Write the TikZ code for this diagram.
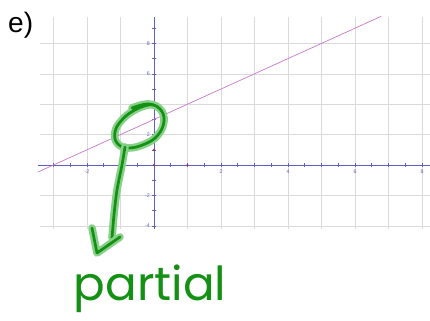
\documentclass[tikz,border=0pt]{standalone}
\usepackage{fontspec}
\setmainfont{Liberation Sans}
\newfontfamily\handfont{Poppins}
\usetikzlibrary{calc}
\definecolor{GridGray}{RGB}{218,218,218}
\definecolor{AxisBlue}{RGB}{95,95,195}
\definecolor{LineViolet}{RGB}{200,120,205}
\definecolor{DotRed}{RGB}{190,40,40}
\definecolor{InkGreen}{RGB}{20,145,20}
\definecolor{InkGlow}{RGB}{135,208,135}

\begin{document}
\begin{tikzpicture}[
        gridln/.style={draw=GridGray, line width=0.5pt},
        axis/.style={draw=AxisBlue, line width=0.7pt},
        ticklbl/.style={text=AxisBlue, font=\fontsize{4.5}{5}\selectfont, inner sep=0.5pt},
        dot/.style={circle, fill=DotRed, inner sep=0pt, minimum size=2pt},
        ink/.style={draw=InkGreen, line width=2.3pt, line cap=round, line join=round,
            preaction={draw=InkGlow, line width=6.5pt, line cap=round, line join=round}}
    ]
        \useasboundingbox (0,0) rectangle (12.9,9.6);
        \node[font=\fontsize{24}{28}\selectfont, inner sep=0pt] (tag) at (0.62,8.85) {e)};
        % graph, 1 unit = 33.5px across and 15.2px up
        \begin{scope}[shift={(4.62cm,4.65cm)}, x=1.005cm, y=0.456cm]
            \foreach \x in {-3,...,8} \draw[gridln] (\x,-4.2) -- (\x,9.74);
            \foreach \y in {-4,-2,2,4,6,8} \draw[gridln] (-3.4,\y) -- (8.24,\y);
            \draw[axis] (-3.46,0) -- (8.24,0);
            \draw[axis] (0,-4.2) -- (0,9.74);
            \foreach \x in {-6,...,16} \draw[axis, line width=0.5pt] (\x/2,-0.13) -- (\x/2,0.13);
            \foreach \y in {-4,...,9} \draw[axis, line width=0.5pt] (-0.06,\y) -- (0.06,\y);
            \foreach \x [count=\i] in {-2,2,4,6,8} \node[ticklbl] (xl\i) at (\x,-0.46) {\x};
            \foreach \y [count=\i] in {-4,-2,2,4,6,8} \node[ticklbl, anchor=east] (yl\i) at (-0.1,\y) {\y};
            \node[dot] (o) at (0,0) {};
            \node[dot] (py) at (0,1) {};
            \node[dot] (px) at (1,0) {};
            \draw[LineViolet, line width=0.6pt] (-3.46,-0.46) -- (6.78,9.78);
        \end{scope}
        % green ink, in pixels from the top left
        \begin{scope}[shift={(0cm,9.6cm)}, x=0.03cm, y=-0.03cm]
            \coordinate (loopbtm) at (125,147);
            \coordinate (stemend) at (112,238);
            \coordinate (tip) at (97,253);
            \draw[ink] plot[smooth, tension=0.7] coordinates {(132,108) (148,104) (160,109) (164,121) (158,135) (145,144) (128,148) (117,143) (115,132) (121,121) (133,111) (148,105) (156,106)};
            \draw[ink] plot[smooth] coordinates {(loopbtm) (122,165) (117,190) (114,215) (stemend)};
            \draw[ink] (92,228) -- (tip) -- (120,237);
            \node[text=InkGreen, font=\handfont\fontsize{40}{44}\selectfont, anchor=base, inner sep=0pt] (word) at (150,301) {partial};
        \end{scope}
    \end{tikzpicture}
\end{document}
